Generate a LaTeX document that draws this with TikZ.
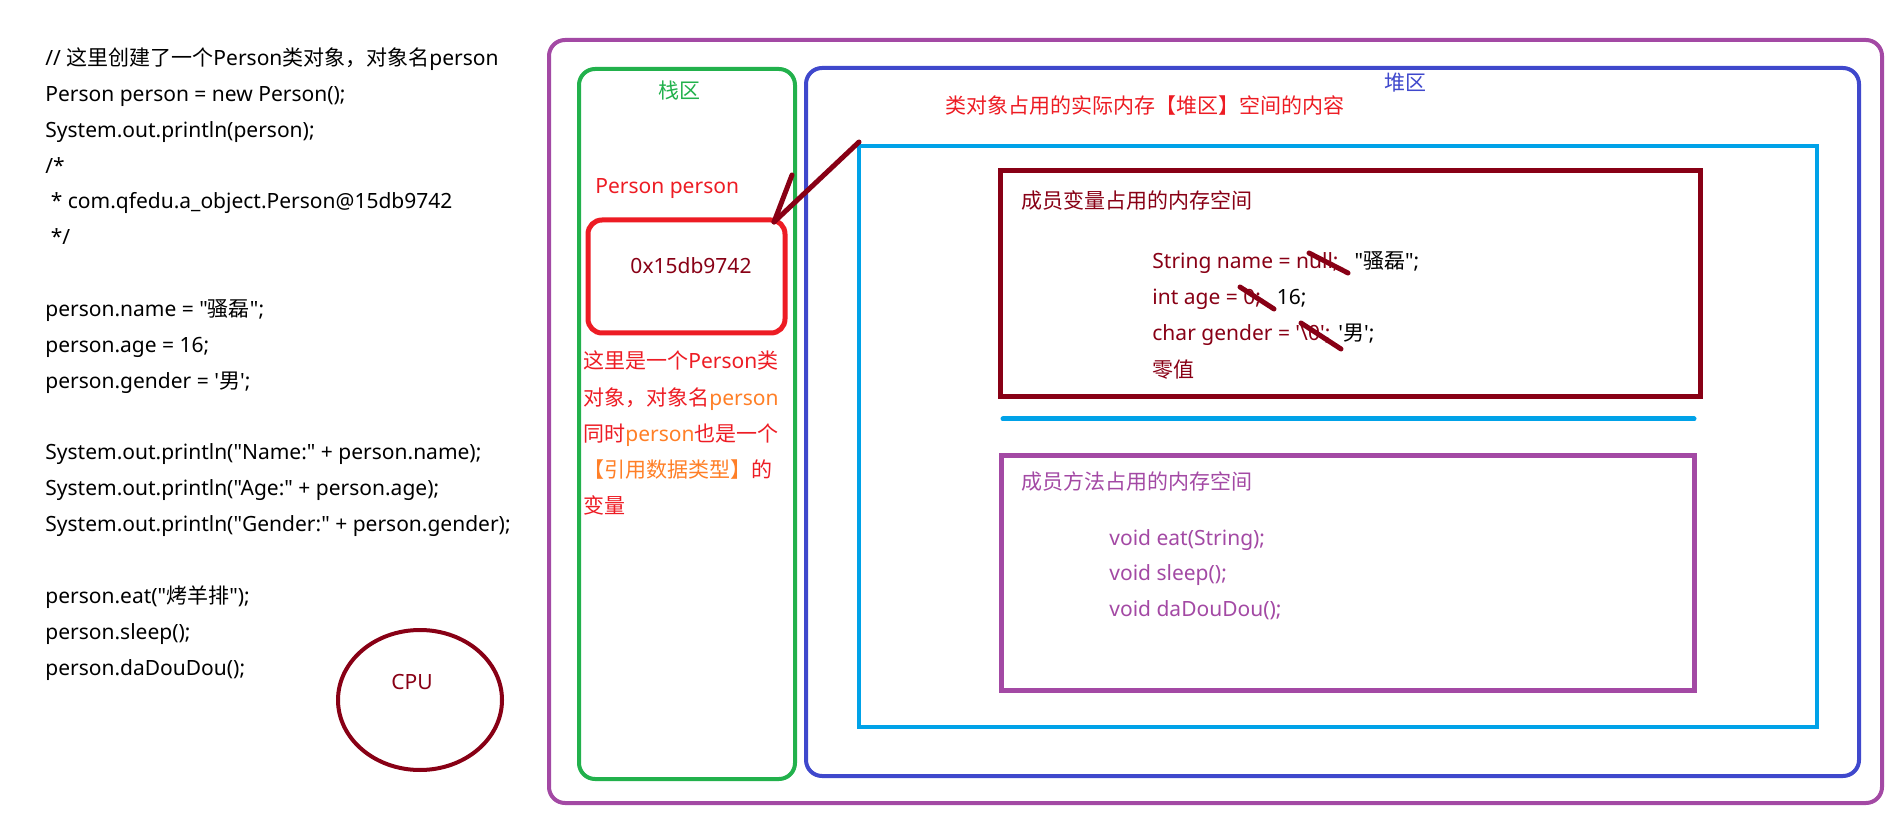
\documentclass[tikz,border=0pt]{standalone}
\usepackage{fontspec}
\setmainfont{Noto Sans}[Ligatures=TeXOff]
\newfontfamily\cjk{Noto Sans CJK SC}
\usepackage{tikz}
\usepackage{xcolor}

\definecolor{memframe}{HTML}{A349A4}
\definecolor{stackgreen}{HTML}{22B14C}
\definecolor{heapblue}{HTML}{3F48CC}
\definecolor{objcyan}{HTML}{00A2E8}
\definecolor{fieldred}{HTML}{880015}
\definecolor{notered}{HTML}{ED1C24}
\definecolor{noteorange}{HTML}{FF7F27}

\begin{document}
\begin{tikzpicture}[
    x=0.5pt, y=-0.5pt,
    font=\fontsize{10.5}{12}\selectfont,
    txt/.style={inner sep=0pt, text height=0.8em, text depth=0.22em},
    codeline/.style={txt, anchor=west},
    strike/.style={fieldred, line width=2.5pt, line cap=round},
]
\useasboundingbox (0,0) rectangle (1900,823);

% Java code
\node[codeline] (c1) at (45, 60) {// {\cjk 这里创建了一个}Person{\cjk 类对象，对象名}person};
\node[codeline] (c2) at (45, 96) {Person person = new Person();};
\node[codeline] (c3) at (45, 132) {System.out.println(person);};
\node[codeline] (c4) at (45, 168) {/*};
\node[codeline] (c5) at (45, 203) {\ * com.qfedu.a\_object.Person@15db9742};
\node[codeline] (c6) at (45, 239) {\ */};
\node[codeline] (c7) at (45, 311) {person.name = "{\cjk 骚磊}";};
\node[codeline] (c8) at (45, 347) {person.age = 16;};
\node[codeline] (c9) at (45, 383) {person.gender = '{\cjk 男}';};
\node[codeline] (c10) at (45, 454) {System.out.println("Name:" + person.name);};
\node[codeline] (c11) at (45, 490) {System.out.println("Age:" + person.age);};
\node[codeline] (c12) at (45, 526) {System.out.println("Gender:" + person.gender);};
\node[codeline] (c13) at (45, 598) {person.eat("{\cjk 烤羊排}");};
\node[codeline] (c14) at (45, 634) {person.sleep();};
\node[codeline] (c15) at (45, 670) {person.daDouDou();};

% CPU
\draw[fieldred, line width=2pt] (420, 700) ellipse [x radius=41pt, y radius=35pt];
\node[txt, fieldred] (cpu) at (412, 684) {CPU};

% Memory frame
\draw[memframe, line width=2pt, rounded corners=8pt] (549, 40) rectangle (1882, 803);

% Stack
\draw[stackgreen, line width=2pt, rounded corners=8pt] (579, 69) rectangle (795, 779);
\node[txt, stackgreen] (stacktitle) at (679, 93) {\cjk 栈区};
\node[codeline, notered] (varname) at (595, 188) {Person person};
\draw[notered, line width=2.5pt, rounded corners=7pt] (588, 220) rectangle (785, 333);
\node[txt, fieldred] (addr) at (691, 268) {0x15db9742};
\node[codeline, notered] (n1) at (583, 363) {\cjk 这里是一个{\rmfamily Person}类};
\node[codeline, notered] (n2) at (583, 400) {{\cjk 对象，对象名}\textcolor{noteorange}{person}};
\node[codeline, notered] (n3) at (583, 436) {{\cjk 同时}\textcolor{noteorange}{person}{\cjk 也是一个}};
\node[codeline, notered] (n4) at (583, 472) {\cjk\textcolor{noteorange}{【引用数据类型】}的};
\node[codeline, notered] (n5) at (583, 508) {\cjk 变量};

% Heap
\draw[heapblue, line width=2pt, rounded corners=8pt] (806, 68) rectangle (1859, 776);
\node[txt, heapblue] (heaptitle) at (1405, 85) {\cjk 堆区};
\node[codeline, notered] (objtitle) at (945, 108) {\cjk 类对象占用的实际内存【堆区】空间的内容};
\draw[objcyan, line width=2pt] (859, 146) rectangle (1817, 727);
\coordinate (objcorner) at (859, 142);

% Reference arrow
\coordinate (tip) at (774, 222);
\coordinate (barb) at (792, 175);
\draw[fieldred, line width=2.5pt, line cap=round] (objcorner) -- (tip);
\draw[fieldred, line width=2.5pt, line cap=round] (barb) -- (tip);

% Member variables
\draw[fieldred, line width=2.5pt] (1000, 171) rectangle (1700, 397);
\node[codeline, fieldred] (fieldtitle) at (1021, 203) {\cjk 成员变量占用的内存空间};
\node[codeline, fieldred] (f1) at (1152, 263) {String name = null;\hspace{8pt}\textcolor{black}{"{\cjk 骚磊}";}};
\node[codeline, fieldred] (f2) at (1152, 299) {int age = 0;\hspace{8pt}\textcolor{black}{16;}};
\node[codeline, fieldred] (f3) at (1152, 335) {char gender = '\textbackslash 0';\hspace{4pt}\textcolor{black}{'{\cjk 男}';}};
\node[codeline, fieldred] (f4) at (1152, 372) {\cjk 零值};
\draw[strike] (1309, 253) -- (1348, 273);
\draw[strike] (1240, 287) -- (1274, 309);
\draw[strike] (1301, 323) -- (1341, 349);

% Separator
\draw[objcyan, line width=2.5pt, line cap=round] (1003, 419) -- (1694, 419);

% Member methods
\draw[memframe, line width=2.5pt] (1001, 455) rectangle (1694, 690);
\node[codeline, memframe] (methtitle) at (1021, 484) {\cjk 成员方法占用的内存空间};
\node[codeline, memframe] (m1) at (1109, 540) {void eat(String);};
\node[codeline, memframe] (m2) at (1109, 575) {void sleep();};
\node[codeline, memframe] (m3) at (1109, 611) {void daDouDou();};

\end{tikzpicture}
\end{document}
